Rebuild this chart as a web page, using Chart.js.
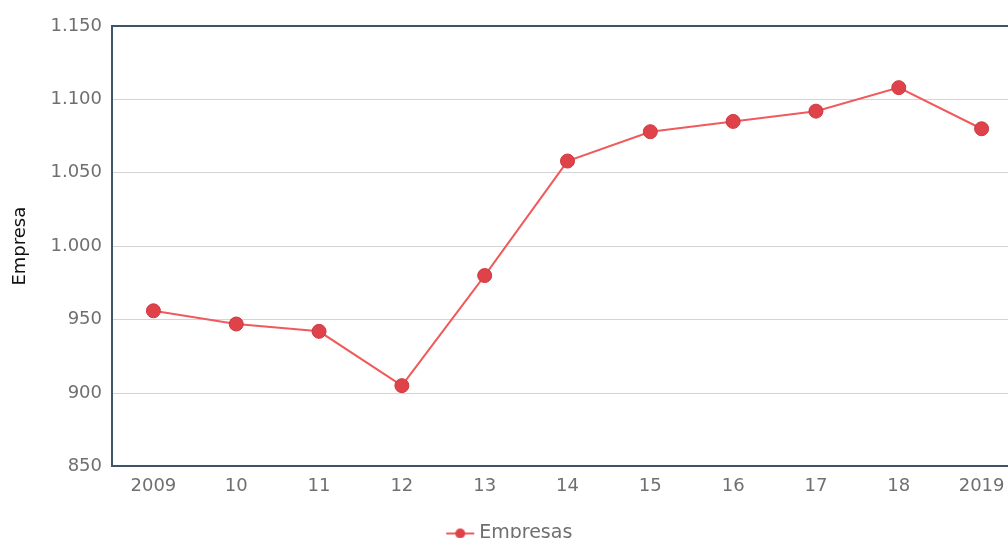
<!DOCTYPE html>
<html>
<head>
<meta charset="utf-8">
<script src="https://cdn.jsdelivr.net/npm/chart.js@4/dist/chart.umd.min.js"></script>
<style>
  html, body { margin: 0; padding: 0; background: #fff; overflow: hidden; }
  #wrap { position: absolute; left: 0; top: 0; width: 1040px; height: 553px; }
</style>
</head>
<body>
<div id="wrap"><canvas id="chart"></canvas></div>
<script>
// Data
const years = ['2009', '10', '11', '12', '13', '14', '15', '16', '17', '18', '2019'];
const empresas = [956, 947, 942, 905, 980, 1058, 1078, 1085, 1092, 1108, 1080];
const yTicks = [850, 900, 950, 1000, 1050, 1100, 1150];

const LINE = '#f05a5c';
const DOT = '#e0424a';
const FRAME = '#3e5468';
const GRID = '#d4d4d4';
const TICK = '#6f6f6f';

// legend marker: short line with a dot on it
function legendMarker() {
    const c = document.createElement('canvas');
    c.width = 30; c.height = 14;
    const g = c.getContext('2d');
    g.strokeStyle = LINE;
    g.lineWidth = 2;
    g.beginPath(); g.moveTo(1, 7); g.lineTo(29, 7); g.stroke();
    g.fillStyle = DOT;
    g.beginPath(); g.arc(15, 7, 5, 0, Math.PI * 2); g.fill();
    return c;
}

const fmt = v => String(v).replace(/\B(?=(\d{3})+(?!\d))/g, '.');

new Chart(document.getElementById('chart'), {
    type: 'line',
    data: {
        labels: years,
        datasets: [{
            label: 'Empresas',
            data: empresas,
            borderColor: LINE,
            borderWidth: 2,
            backgroundColor: DOT,
            pointBackgroundColor: DOT,
            pointBorderColor: '#c93a40',
            pointBorderWidth: 1,
            pointRadius: 7,
            tension: 0
        }]
    },
    options: {
        responsive: true,
        maintainAspectRatio: false,
        animation: false,
        layout: { padding: { top: 26, right: 17, left: 0, bottom: 0 } },
        plugins: {
            tooltip: { enabled: false },
            legend: {
                position: 'bottom',
                labels: {
                    usePointStyle: true,
                    pointStyle: legendMarker(),
                    color: TICK,
                    font: { family: 'DejaVu Sans', size: 19 },
                    padding: 18
                }
            }
        },
        scales: {
            x: {
                offset: true,
                grid: { display: false, drawTicks: false },
                border: { color: FRAME, width: 2 },
                ticks: {
                    color: TICK,
                    padding: 9,
                    maxRotation: 0,
                    font: { family: 'DejaVu Sans', size: 18 }
                }
            },
            y: {
                min: 850,
                max: 1150,
                afterBuildTicks: axis => { axis.ticks = yTicks.map(v => ({ value: v })); },
                afterFit: axis => { axis.width = 112; },
                grid: {
                    drawTicks: false,
                    color: ctx => ctx.tick && ctx.tick.value === 1150 ? FRAME : GRID,
                    lineWidth: ctx => ctx.tick && ctx.tick.value === 1150 ? 2 : 1
                },
                border: { color: FRAME, width: 2 },
                title: {
                    display: true,
                    text: 'Empresa',
                    color: '#111',
                    font: { family: 'DejaVu Sans', size: 18 },
                    padding: { top: 10, bottom: 0 }
                },
                ticks: {
                    color: TICK,
                    padding: 10,
                    font: { family: 'DejaVu Sans', size: 18 },
                    callback: v => fmt(v)
                }
            }
        }
    }
});
</script>
</body>
</html>
